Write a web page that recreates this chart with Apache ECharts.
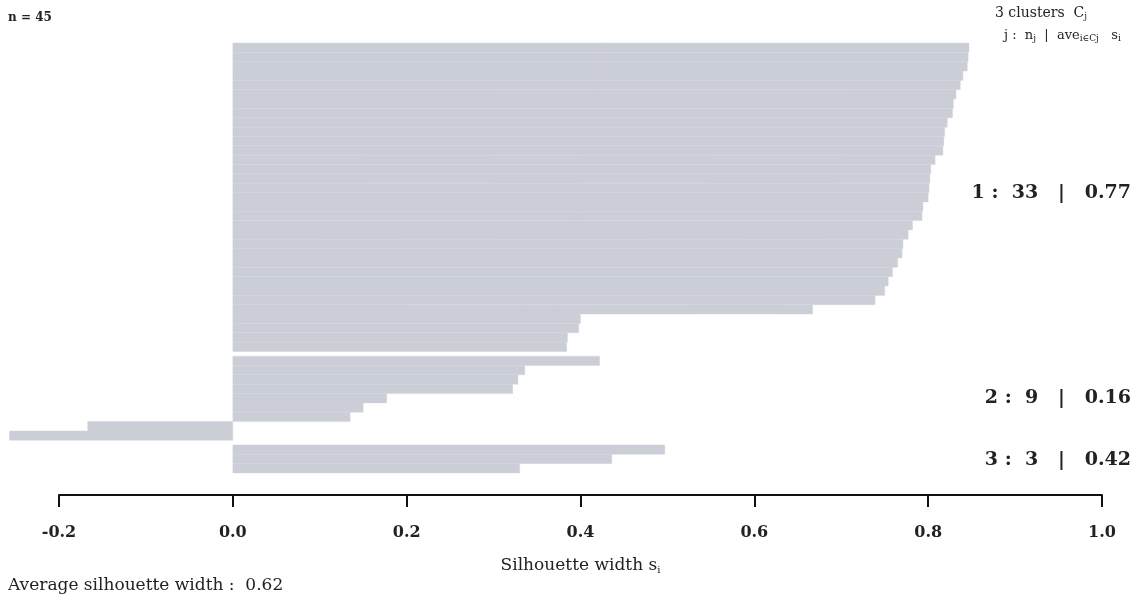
<!DOCTYPE html>
<html>
<head>
<meta charset="utf-8">
<script src="https://cdn.jsdelivr.net/npm/echarts@6/dist/echarts.min.js"></script>
<style>
  html, body { margin: 0; padding: 0; background: #fff; }
  #chart { width: 1145px; height: 596px; }
</style>
</head>
<body>
<div id="chart"></div>
<script>
// silhouette widths, sorted inside each cluster
const cluster1 = [0.847, 0.846, 0.845, 0.840, 0.837, 0.832, 0.829, 0.828, 0.822, 0.819,
  0.818, 0.817, 0.808, 0.803, 0.802, 0.801, 0.800, 0.794, 0.793, 0.782,
  0.777, 0.771, 0.770, 0.765, 0.759, 0.754, 0.750, 0.739, 0.667, 0.400,
  0.398, 0.385, 0.384];
const cluster2 = [0.422, 0.336, 0.328, 0.322, 0.177, 0.150, 0.135, -0.167, -0.257];
const cluster3 = [0.497, 0.436, 0.330];
const clusterNames = ['1', '2', '3'];
const clusterSizes = [33, 9, 3];
const clusterAvg = [0.77, 0.16, 0.42];
const avgWidth = 0.62;
const xTicks = [-0.2, 0.0, 0.2, 0.4, 0.6, 0.8, 1.0];

const clusterGap = 0.5; // gap between clusters, in bar units
const serif = '"DejaVu Serif", "Liberation Serif", serif';

// bar position: index in the plot plus half a bar per cluster already passed
const rows = [];
let pos = 0;
[cluster1, cluster2, cluster3].forEach((vals, ci) => {
  if (ci > 0) pos += clusterGap;
  vals.forEach(v => { rows.push([v, pos + 0.5, ci]); pos += 1; });
});
const total = pos;

const chart = echarts.init(document.getElementById('chart'));

const sub = { fontSize: 9, fontFamily: serif, color: '#222', padding: [7, 0, 0, 0] };
const clusterLabel = i =>
  clusterNames[i] + ' :  ' + clusterSizes[i] + '   |   ' + clusterAvg[i].toFixed(2);

chart.setOption({
  animation: false,
  grid: { left: 59, right: 43, top: 43, bottom: 123 },
  xAxis: {
    type: 'value',
    position: 'bottom',
    min: xTicks[0],
    max: xTicks[xTicks.length - 1],
    interval: 0.2,
    offset: 22,
    name: '{t|Silhouette width s}{s|i}',
    nameLocation: 'middle',
    nameGap: 62,
    nameTextStyle: {
      rich: {
        t: { fontFamily: serif, fontSize: 17, color: '#222' },
        s: { fontFamily: serif, fontSize: 10, color: '#222', padding: [8, 0, 0, 0] }
      }
    },
    axisLine: { onZero: false, lineStyle: { color: '#111', width: 2 } },
    axisTick: { length: 12, lineStyle: { color: '#111', width: 2 } },
    splitLine: { show: false },
    axisLabel: {
      margin: 30,
      fontFamily: serif,
      fontWeight: 'bold',
      fontSize: 16,
      color: '#222',
      formatter: v => v.toFixed(1)
    }
  },
  yAxis: { type: 'value', min: 0, max: total, inverse: true, show: false },
  series: [{
    type: 'custom',
    clip: false,
    data: rows,
    encode: { x: 0, y: 1 },
    renderItem: (params, api) => {
      const a = api.coord([0, api.value(1)]);
      const b = api.coord([api.value(0), api.value(1)]);
      const h = api.size([0, 1])[1];
      return {
        type: 'rect',
        shape: { x: Math.min(a[0], b[0]), y: a[1] - h / 2, width: Math.abs(b[0] - a[0]), height: h },
        style: { fill: '#cbced7', stroke: '#d2d4db', lineWidth: 0.4 }
      };
    }
  }],
  graphic: [
    { type: 'text', left: 8, top: 12, style: { text: 'n = 45', font: 'bold 12px ' + serif, fill: '#222' } },
    { type: 'text', left: 995, top: 6, style: { text: '3 clusters  C{s|j}', font: '14px ' + serif, fill: '#222',
      rich: { s: sub } } },
    { type: 'text', left: 1004, top: 29, style: {
      text: 'j :  n{s|j}  |  ave{s|i\u2208Cj}   s{s|i}', font: '13px ' + serif, fill: '#222',
      rich: { s: sub } } },
    { type: 'text', right: 14, top: 184, style: { text: clusterLabel(0), font: 'bold 19px ' + serif, fill: '#222' } },
    { type: 'text', right: 14, top: 389, style: { text: clusterLabel(1), font: 'bold 19px ' + serif, fill: '#222' } },
    { type: 'text', right: 14, top: 451, style: { text: clusterLabel(2), font: 'bold 19px ' + serif, fill: '#222' } },
    { type: 'text', left: 8, top: 577, style: {
      text: 'Average silhouette width :  ' + avgWidth.toFixed(2), font: '17px ' + serif, fill: '#222' } }
  ]
});
</script>
</body>
</html>
